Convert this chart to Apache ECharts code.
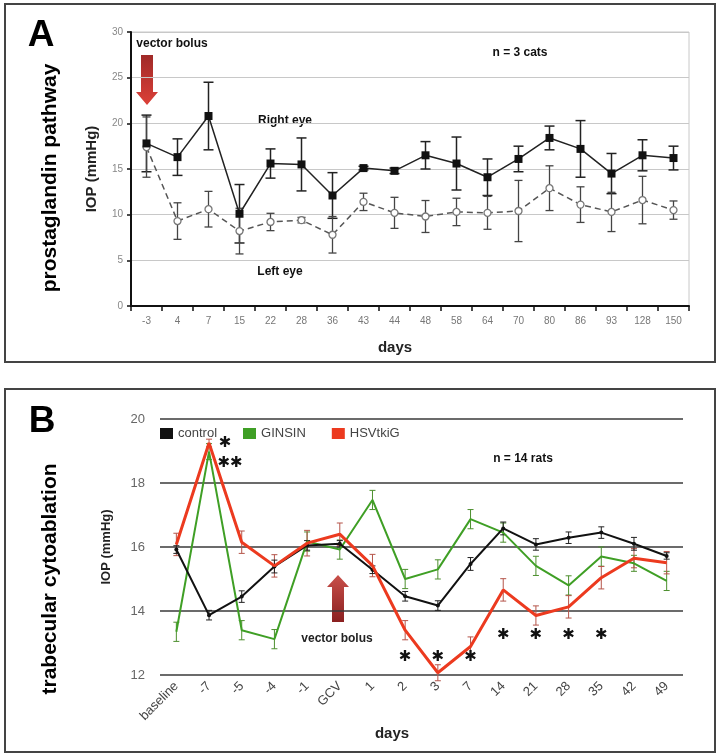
<!DOCTYPE html>
<html>
<head>
<meta charset="utf-8">
<script src="https://cdn.jsdelivr.net/npm/echarts@6/dist/echarts.min.js"></script>
<style>
html,body{margin:0;padding:0;background:#fff;}
#chart{width:718px;height:755px;}
</style>
</head>
<body>
<div id="chart"></div>
<script>
// ---------- Panel A data (cats) ----------
var catsA = ['-3','4','7','15','22','28','36','43','44','48','58','64','70','80','86','93','128','150'];
var rightEye = [17.8,16.3,20.8,10.1,15.6,15.5,12.1,15.1,14.8,16.5,15.6,14.1,16.1,18.4,17.2,14.5,16.5,16.2];
var rightErr = [3.1,2.0,3.7,3.2,1.6,2.9,2.5,0.2,0.3,1.5,2.9,2.0,1.4,1.3,3.1,2.2,1.7,1.3];
var leftEye = [17.4,9.3,10.6,8.2,9.2,9.4,7.8,11.4,10.2,9.8,10.3,10.2,10.4,12.9,11.1,10.3,11.6,10.5];
var leftErr = [3.3,2.0,1.95,2.5,0.95,0.3,2.0,0.95,1.7,1.75,1.5,1.8,3.35,2.45,1.95,2.15,2.6,1.0];
var yTicksA = [0,5,10,15,20,25,30];

// ---------- Panel B data (rats) ----------
var catsB = ['baseline','-7','-5','-4','-1','GCV','1','2','3','7','14','21','28','35','42','49'];
var control = [15.92,13.87,14.45,15.39,16.05,16.1,15.29,14.46,14.17,15.47,16.58,16.08,16.29,16.45,16.1,15.72];
var controlErr = [0.12,0.15,0.18,0.2,0.15,0.1,0.12,0.15,0.15,0.2,0.2,0.18,0.18,0.18,0.2,0.1];
var ginsin = [13.35,18.98,13.4,13.12,16.17,15.92,17.47,15.0,15.3,16.87,16.45,15.41,14.8,15.7,15.49,14.94];
var ginsinErr = [0.3,0.25,0.3,0.3,0.3,0.3,0.3,0.3,0.3,0.3,0.3,0.3,0.3,0.3,0.25,0.3];
var hsv = [16.08,19.25,16.15,15.41,16.12,16.4,15.42,13.4,12.07,12.89,14.66,13.86,14.13,15.04,15.65,15.51];
var hsvErr = [0.35,0.12,0.35,0.35,0.4,0.35,0.35,0.3,0.25,0.3,0.35,0.3,0.35,0.35,0.3,0.35];
var yTicksB = [12,14,16,18,20];
// significance stars: [category, value, text]
var starsPeak = [['-7',19.25,'\u2731'],['-7',18.62,'\u2731\u2731']];
var starsLow = [['2',12.56,'\u2731'],['3',12.56,'\u2731'],['7',12.56,'\u2731'],
                ['14',13.25,'\u2731'],['21',13.25,'\u2731'],['28',13.25,'\u2731'],['35',13.25,'\u2731']];

var SANS = '"Liberation Sans", Arial, sans-serif';
var NARROW = '"Liberation Sans Narrow", "Liberation Sans", Arial, sans-serif';

function errData(vals, errs){
  return vals.map(function(v,i){ return [i, v, errs[i]]; });
}
function errRender(color, cap, lw){
  return function(params, api){
    var x = api.value(0), y = api.value(1), e = api.value(2);
    var p1 = api.coord([x, y + e]), p2 = api.coord([x, y - e]);
    var st = {stroke: color, lineWidth: lw};
    return {type:'group', children:[
      {type:'line', shape:{x1:p1[0], y1:p1[1], x2:p2[0], y2:p2[1]}, style:st},
      {type:'line', shape:{x1:p1[0]-cap, y1:p1[1], x2:p1[0]+cap, y2:p1[1]}, style:st},
      {type:'line', shape:{x1:p2[0]-cap, y1:p2[1], x2:p2[0]+cap, y2:p2[1]}, style:st}
    ]};
  };
}
function starData(list){
  return list.map(function(s){ return [catsB.indexOf(s[0]), s[1]]; });
}
function starRender(list, dxs){
  return function(params, api){
    var p = api.coord([api.value(0), api.value(1)]);
    return {type:'text', x:p[0]+dxs[params.dataIndex], y:p[1], style:{text:list[params.dataIndex][2], fill:'#111',
      font:'bold 15px "DejaVu Sans", sans-serif', textAlign:'center', textVerticalAlign:'middle'}};
  };
}

var chart = echarts.init(document.getElementById('chart'), null, {renderer:'canvas'});

var option = {
  animation: false,
  backgroundColor: '#ffffff',
  grid: [
    {left:131, top:32, width:558, height:274, show:true, borderColor:'#c8c8c8', borderWidth:1},
    {left:160, top:419, width:523, height:256}
  ],
  legend: {
    data: ['control','GINSIN','HSVtkiG'],
    icon: 'rect', left: 160, top: 427, padding: 0, itemWidth: 13, itemHeight: 11, itemGap: 26,
    textStyle: {fontSize: 13, color: '#444', fontFamily: SANS}
  },
  xAxis: [
    {gridIndex:0, type:'category', data:catsA, boundaryGap:true,
     axisLine:{lineStyle:{color:'#111', width:2}},
     axisTick:{show:true, length:5, lineStyle:{color:'#111', width:1.5}},
     axisLabel:{color:'#777', fontSize:10, margin:10, interval:0, fontFamily:SANS},
     name:'days', nameLocation:'middle', nameGap:34,
     nameTextStyle:{fontSize:15, fontWeight:'bold', color:'#222', fontFamily:SANS, padding:[0,30,0,0]}},
    {gridIndex:1, type:'category', data:catsB, boundaryGap:true,
     axisLine:{show:false}, axisTick:{show:false},
     axisLabel:{color:'#444', fontSize:13, rotate:45, margin:9, interval:0, fontFamily:SANS},
     name:'days', nameLocation:'middle', nameGap:41,
     nameTextStyle:{fontSize:15, fontWeight:'bold', color:'#222', fontFamily:SANS, padding:[0,59,0,0]}}
  ],
  yAxis: [
    {gridIndex:0, type:'value', min:yTicksA[0], max:yTicksA[yTicksA.length-1], interval:5,
     axisLine:{show:true, lineStyle:{color:'#111', width:2}},
     axisTick:{show:true, length:4, lineStyle:{color:'#111', width:1.5}},
     axisLabel:{color:'#888', fontSize:10, margin:8, fontFamily:SANS},
     splitLine:{lineStyle:{color:'#c8c8c8', width:1}},
     name:'IOP (mmHg)', nameLocation:'middle', nameGap:32, nameRotate:90,
     nameTextStyle:{fontSize:15, fontWeight:'bold', color:'#222', fontFamily:SANS}},
    {gridIndex:1, type:'value', min:yTicksB[0], max:yTicksB[yTicksB.length-1], interval:2,
     axisLine:{show:false}, axisTick:{show:false},
     axisLabel:{color:'#666', fontSize:13, margin:15, fontFamily:SANS},
     splitLine:{lineStyle:{color:'#3a3a3a', width:1.5}},
     name:'IOP (mmHg)', nameLocation:'middle', nameGap:47, nameRotate:90,
     nameTextStyle:{fontSize:13, fontWeight:'bold', color:'#222', fontFamily:NARROW}}
  ],
  series: [
    // Panel A error bars
    {type:'custom', name:'rightErr', xAxisIndex:0, yAxisIndex:0, data:errData(rightEye,rightErr),
     renderItem:errRender('#222',5,1.5), z:3, silent:true},
    {type:'custom', name:'leftErr', xAxisIndex:0, yAxisIndex:0, data:errData(leftEye,leftErr),
     renderItem:errRender('#444',4,1.3), z:3, silent:true},
    {type:'line', name:'Left eye', xAxisIndex:0, yAxisIndex:0, data:leftEye,
     symbol:'circle', symbolSize:7, showAllSymbol:true,
     itemStyle:{color:'#fff', borderColor:'#777', borderWidth:1.3},
     lineStyle:{color:'#555', width:1.5, type:[6,4]}, z:4},
    {type:'line', name:'Right eye', xAxisIndex:0, yAxisIndex:0, data:rightEye,
     symbol:'rect', symbolSize:8, showAllSymbol:true,
     itemStyle:{color:'#111'}, lineStyle:{color:'#222', width:1.5}, z:5},
    // Panel B
    {type:'custom', name:'ginsinErr', xAxisIndex:1, yAxisIndex:1, data:errData(ginsin,ginsinErr),
     renderItem:errRender('#4d8f2e',3,1), z:3, silent:true},
    {type:'custom', name:'hsvErr', xAxisIndex:1, yAxisIndex:1, data:errData(hsv,hsvErr),
     renderItem:errRender('#b5554a',3,1), z:3, silent:true},
    {type:'custom', name:'controlErr', xAxisIndex:1, yAxisIndex:1, data:errData(control,controlErr),
     renderItem:errRender('#222',3,1), z:3, silent:true},
    {type:'line', name:'GINSIN', xAxisIndex:1, yAxisIndex:1, data:ginsin, symbol:'none',
     itemStyle:{color:'#3f9f25'}, lineStyle:{color:'#3f9f25', width:2}, z:4},
    {type:'line', name:'control', xAxisIndex:1, yAxisIndex:1, data:control, symbol:'circle', symbolSize:4,
     itemStyle:{color:'#111'}, lineStyle:{color:'#111', width:2}, z:5},
    {type:'line', name:'HSVtkiG', xAxisIndex:1, yAxisIndex:1, data:hsv, symbol:'none',
     itemStyle:{color:'#ec3a1f'}, lineStyle:{color:'#ec3a1f', width:3}, z:6},
    {type:'custom', name:'starsPeak', xAxisIndex:1, yAxisIndex:1, data:starData(starsPeak),
     renderItem:starRender(starsPeak,[16,21]), z:7, silent:true},
    {type:'custom', name:'starsLow', xAxisIndex:1, yAxisIndex:1, data:starData(starsLow),
     renderItem:starRender(starsLow,[0,0,0,0,0,0,0]), z:7, silent:true}
  ],
  graphic: [
    {type:'rect', shape:{x:5, y:4, width:710, height:358}, style:{fill:'none', stroke:'#444', lineWidth:2}, z:0},
    {type:'rect', shape:{x:5, y:389, width:710, height:363}, style:{fill:'none', stroke:'#444', lineWidth:2}, z:0},
    {type:'text', x:41, y:36, style:{text:'A', font:'bold 37px '+SANS, fill:'#000', textAlign:'center', textVerticalAlign:'middle'}},
    {type:'text', x:42, y:422, style:{text:'B', font:'bold 37px '+SANS, fill:'#000', textAlign:'center', textVerticalAlign:'middle'}},
    {type:'text', x:50, y:178, rotation:Math.PI/2, style:{text:'prostaglandin pathway', font:'bold 21px '+SANS, fill:'#000', textAlign:'center', textVerticalAlign:'middle'}},
    {type:'text', x:50, y:579, rotation:Math.PI/2, style:{text:'trabecular cytoablation', font:'bold 21px '+SANS, fill:'#000', textAlign:'center', textVerticalAlign:'middle'}},
    {type:'text', x:172, y:44, style:{text:'vector bolus', font:'bold 12px '+SANS, fill:'#111', textAlign:'center', textVerticalAlign:'middle'}},
    {type:'text', x:285, y:121, style:{text:'Right eye', font:'bold 12px '+SANS, fill:'#111', textAlign:'center', textVerticalAlign:'middle'}},
    {type:'text', x:280, y:272, style:{text:'Left eye', font:'bold 12px '+SANS, fill:'#111', textAlign:'center', textVerticalAlign:'middle'}},
    {type:'text', x:520, y:53, style:{text:'n = 3 cats', font:'bold 12px '+SANS, fill:'#111', textAlign:'center', textVerticalAlign:'middle'}},
    {type:'text', x:523, y:459, style:{text:'n = 14 rats', font:'bold 12px '+SANS, fill:'#111', textAlign:'center', textVerticalAlign:'middle'}},
    {type:'text', x:337, y:639, style:{text:'vector bolus', font:'bold 12px '+SANS, fill:'#222', textAlign:'center', textVerticalAlign:'middle'}},
    {type:'polygon', shape:{points:[[141,55],[153,55],[153,92],[158,92],[147,105],[136,92],[141,92]]},
     style:{fill:new echarts.graphic.LinearGradient(0,0,0,1,[{offset:0,color:'#a02a28'},{offset:1,color:'#dc4038'}])}},
    {type:'polygon', shape:{points:[[338,575],[349,587],[344,587],[344,622],[332,622],[332,587],[327,587]]},
     style:{fill:new echarts.graphic.LinearGradient(0,0,0,1,[{offset:0,color:'#c9504a'},{offset:1,color:'#8a2020'}])}}
  ]
};
chart.setOption(option);
</script>
</body>
</html>
